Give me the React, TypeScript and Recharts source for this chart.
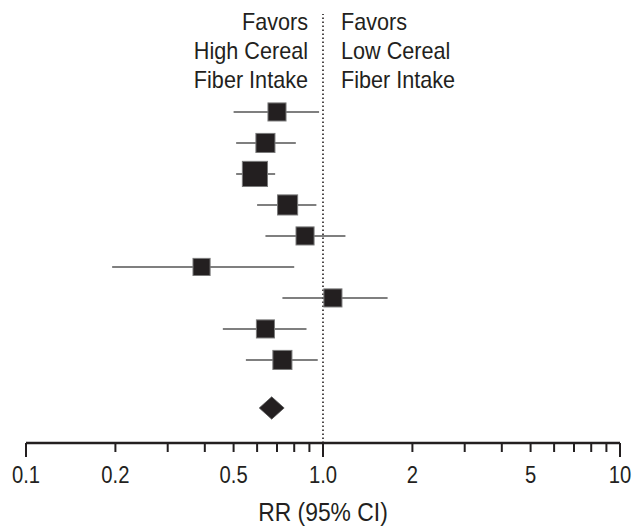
import React from 'react';
import { ScatterChart, Scatter, XAxis, YAxis, ErrorBar, ReferenceLine, ReferenceArea } from 'recharts';

// Relative risk and 95% CI per study, top to bottom
const rr = [0.7, 0.64, 0.59, 0.76, 0.87, 0.39, 1.08, 0.64, 0.73];
const ciLow = [0.5, 0.51, 0.51, 0.6, 0.64, 0.195, 0.73, 0.46, 0.55];
const ciHigh = [0.97, 0.81, 0.69, 0.95, 1.19, 0.8, 1.65, 0.88, 0.96];
const weights = [9.7, 10.8, 18.8, 12.0, 9.7, 8.7, 9.7, 9.7, 10.8];

// Pooled estimate
const pooledRR = [0.67];
const pooledCI = [0.61, 0.74];

const tickValues = [0.1, 0.2, 0.3, 0.4, 0.5, 0.6, 0.7, 0.8, 0.9, 1, 2, 3, 4, 5, 6, 7, 8, 9, 10];
const tickLabels = ['0.1', '0.2', '', '', '0.5', '', '', '', '', '1.0', '2', '', '', '5', '', '', '', '', '10'];

const headerLeft = ['Favors', 'High Cereal', 'Fiber Intake'];
const headerRight = ['Favors', 'Low Cereal', 'Fiber Intake'];

const FONT = "'Liberation Sans', Arial, sans-serif";
const INK = '#231f20';

const studies = rr.map((v, i) => ({
  x: v,
  y: i + 1,
  err: [v - ciLow[i], ciHigh[i] - v],
  w: weights[i],
}));
const pooledY = rr.length + 1.55;

// condensed-looking text: regular sans squeezed horizontally
const CondText = ({ x, y, size, anchor, squeeze = 0.88, children }: any) => (
  <text
    transform={`translate(${x},${y}) scale(${squeeze},1)`}
    textAnchor={anchor}
    fontFamily={FONT}
    fontSize={size}
    fill={INK}
  >
    {children}
  </text>
);

const AxisTick = (props: any) => {
  const { x, y, payload } = props;
  const idx = tickValues.indexOf(payload.value);
  const label = tickLabels[idx];
  const major = payload.value === 0.1 || payload.value === 1 || payload.value === 10;
  return (
    <g>
      <line x1={x} x2={x} y1={y} y2={y + (major ? 14 : 9)} stroke={INK} strokeWidth={2} />
      {label ? (
        <CondText x={x} y={y + 40} size={23} anchor="middle">
          {label}
        </CondText>
      ) : null}
    </g>
  );
};

const Header = (props: any) => {
  const vb = props.viewBox || {};
  const x = vb.x ?? 0;
  return (
    <g>
      {headerLeft.map((t, i) => (
        <CondText key={`l${i}`} x={x - 15} y={30 + i * 29} size={23} squeeze={0.94} anchor="end">
          {t}
        </CondText>
      ))}
      {headerRight.map((t, i) => (
        <CondText key={`r${i}`} x={x + 18} y={30 + i * 29} size={23} squeeze={0.94} anchor="start">
          {t}
        </CondText>
      ))}
    </g>
  );
};

const AxisTitle = (props: any) => {
  const vb = props.viewBox || {};
  return (
    <CondText x={vb.x + vb.width / 2} y={vb.y + vb.height - 8} size={26} anchor="middle">
      RR (95% CI)
    </CondText>
  );
};

const Box = (props: any) => {
  const { cx, cy, payload } = props;
  const s = 5.8 * Math.sqrt(payload.w);
  return <rect x={cx - s / 2} y={cy - s / 2} width={s} height={s} fill={INK} stroke="#7a7a7a" strokeWidth={1} />;
};

const Diamond = (props: any) => {
  const { x, y, width, height } = props;
  const cx = x + width / 2;
  const cy = y + height / 2;
  return (
    <polygon
      points={`${x},${cy} ${cx},${y} ${x + width},${cy} ${cx},${y + height}`}
      fill={INK}
      stroke="#555"
      strokeWidth={0.8}
    />
  );
};

const App = () => {
  return (
    <div style={{ width: 633, height: 529, background: '#fff' }}>
      <style>{'body{margin:0}'}</style>
      <ScatterChart width={633} height={529} margin={{ top: 14, right: 13, bottom: 0, left: 26 }}>
        <XAxis
          type="number"
          dataKey="x"
          scale="log"
          domain={[0.1, 10]}
          ticks={tickValues}
          interval={0}
          allowDataOverflow
          height={86}
          tickSize={0}
          tickMargin={0}
          tickLine={false}
          tick={<AxisTick />}
          axisLine={{ stroke: INK, strokeWidth: 2.5 }}
          label={{ content: (p: any) => <AxisTitle {...p} /> }}
        />
        <YAxis type="number" dataKey="y" domain={[-2.16, 11.68]} reversed hide allowDataOverflow />
        <ReferenceLine
          x={1}
          stroke={INK}
          strokeWidth={1.6}
          strokeDasharray="1.6 2.4"
          label={{ content: (p: any) => <Header {...p} /> }}
        />
        <Scatter data={studies} shape={<Box />} isAnimationActive={false}>
          <ErrorBar dataKey="err" direction="x" width={0} stroke="#555" strokeWidth={1.6} />
        </Scatter>
        <ReferenceArea
          x1={pooledCI[0]}
          x2={pooledCI[1]}
          y1={pooledY - 0.36}
          y2={pooledY + 0.36}
          shape={(p: any) => <Diamond {...p} />}
        />
        <Scatter data={[{ x: pooledRR[0], y: pooledY }]} shape={() => <g />} isAnimationActive={false} />
      </ScatterChart>
    </div>
  );
};

export default App;
